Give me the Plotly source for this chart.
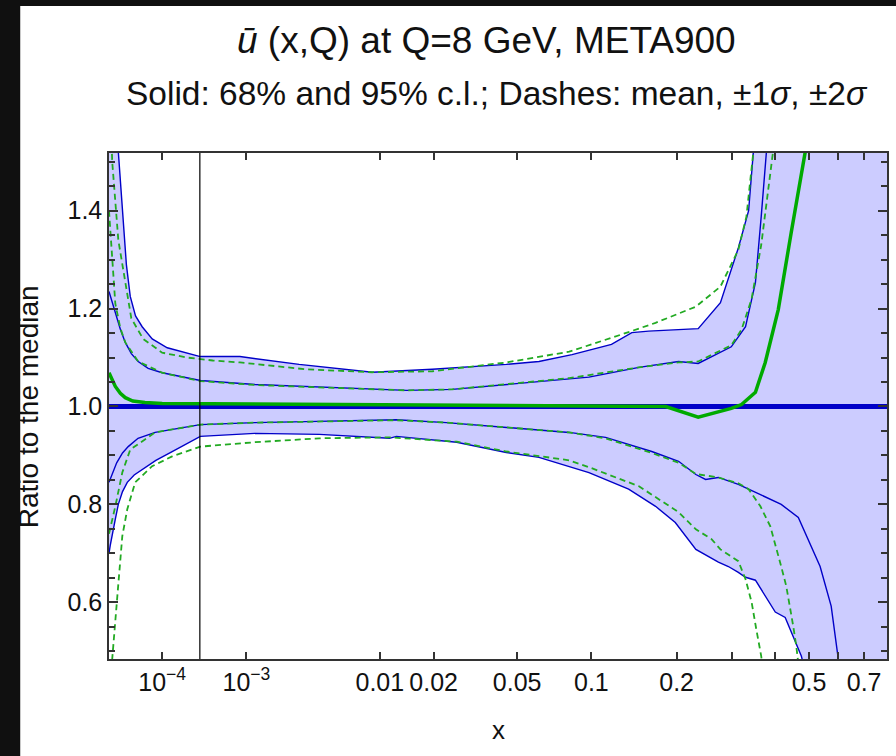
import numpy as np
import plotly.graph_objects as go

# ---------------- data ----------------
# The x axis of the reference is uniform in x**0.2
AXIS_POWER = 0.2
x_min, x_max = 1e-5, 0.8
y_min, y_max = 0.484, 1.518
x_vline = 3.2e-4

x_tick_vals = [1e-4, 1e-3, 0.01, 0.02, 0.05, 0.1, 0.2, 0.5, 0.7]
x_tick_text = ["10<sup>\u22124</sup>", "10<sup>\u22123</sup>", "0.01", "0.02",
               "0.05", "0.1", "0.2", "0.5", "0.7"]
x_minor_tick_vals = [0.3, 0.4, 0.6]
y_tick_vals = [0.6, 0.8, 1.0, 1.2, 1.4]
y_tick_text = ["0.6", "0.8", "1.0", "1.2", "1.4"]

median_x = [1e-5, 0.8]
median_y = [1.0, 1.0]

upper95_x = [1.0e-5, 1.3e-5, 1.63e-5, 1.98e-5, 2.4e-5, 2.86e-5, 3.6e-5, 4.74e-5, 7.0e-5, 1.19e-4,
             3.24e-4, 8.67e-4, 2.83e-3, 9.0e-3, 0.0197, 0.0448, 0.0619, 0.0842, 0.1188, 0.1406,
             0.161, 0.235, 0.276, 0.313, 0.336, 0.347, 0.37, 0.45, 0.8]
upper95_y = [1.80, 1.62, 1.52, 1.40, 1.29, 1.225, 1.185, 1.163, 1.138, 1.120,
             1.102, 1.102, 1.086, 1.070, 1.076, 1.086, 1.092, 1.106, 1.127, 1.151,
             1.154, 1.159, 1.212, 1.324, 1.40, 1.52, 1.8, 2.5, 3.0]

lower95_x = [1.0e-5, 1.07e-5, 1.4e-5, 1.63e-5, 2.0e-5, 2.5e-5, 3.4e-5, 4.74e-5, 8.0e-5, 1.4e-4,
             3.24e-4, 1.2e-3, 4.0e-3, 0.0114, 0.0125, 0.0262, 0.0338, 0.0448, 0.0619, 0.0821,
             0.0979, 0.137, 0.170, 0.198, 0.231, 0.272, 0.292, 0.313, 0.329, 0.352, 0.402,
             0.429, 0.476, 0.50, 0.8]
lower95_y = [0.70, 0.716, 0.77, 0.800, 0.826, 0.845, 0.860, 0.871, 0.890, 0.908,
             0.939, 0.945, 0.943, 0.935, 0.939, 0.927, 0.918, 0.906, 0.896, 0.878,
             0.865, 0.831, 0.796, 0.763, 0.708, 0.682, 0.673, 0.661, 0.651, 0.645, 0.580,
             0.569, 0.490, 0.43, 0.0]

upper68_x = [1e-5, 1.4e-5, 1.8e-5, 2.28e-5, 3.0e-5, 4.02e-5, 6.0e-5, 1e-4, 3.24e-4, 1.2e-3,
             3.19e-3, 0.0143, 0.0249, 0.0448, 0.0619, 0.0821, 0.0979, 0.149, 0.203, 0.235,
             0.298, 0.329, 0.352, 0.366, 0.379, 0.40, 0.5]
upper68_y = [1.235, 1.192, 1.158, 1.131, 1.108, 1.092, 1.078, 1.069, 1.053, 1.045,
             1.041, 1.033, 1.035, 1.045, 1.050, 1.057, 1.060, 1.080, 1.092, 1.088,
             1.122, 1.163, 1.253, 1.388, 1.52, 1.8, 2.5]

lower68_x = [1e-5, 1.07e-5, 1.5e-5, 2.0e-5, 2.61e-5, 4.0e-5, 7.8e-5, 3.24e-4, 1.2e-3, 3.19e-3,
             0.0125, 0.0233, 0.0448, 0.0821, 0.113, 0.165, 0.203, 0.231, 0.248, 0.272, 0.313,
             0.336, 0.418, 0.467, 0.536, 0.574, 0.599, 0.62, 0.8]
lower68_y = [0.845, 0.851, 0.885, 0.905, 0.918, 0.935, 0.947, 0.963, 0.967, 0.969,
             0.973, 0.967, 0.957, 0.947, 0.937, 0.908, 0.888, 0.861, 0.851, 0.855, 0.841,
             0.831, 0.800, 0.773, 0.673, 0.592, 0.49, 0.40, 0.0]

mean_x = [1e-5, 1.4e-5, 1.8e-5, 2.28e-5, 3.2e-5, 5.3e-5, 1e-4, 1e-3, 0.01, 0.1, 0.184, 0.235,
          0.298, 0.320, 0.352, 0.376, 0.41, 0.446, 0.488, 0.55]
mean_y = [1.069, 1.041, 1.027, 1.018, 1.011, 1.008, 1.006, 1.005, 1.003, 1.001, 1.0, 0.978,
          0.996, 1.004, 1.029, 1.09, 1.198, 1.355, 1.52, 1.9]

plus2_x = [1e-5, 1.19e-5, 1.63e-5, 2.28e-5, 3.0e-5, 4.94e-5, 1e-4, 2.22e-4, 4.51e-4, 8.67e-4,
           3.19e-3, 9.0e-3, 0.0197, 0.0448, 0.0821, 0.129, 0.170, 0.231, 0.276, 0.313, 0.331,
           0.347, 0.37, 0.45]
plus2_y = [1.70, 1.50, 1.34, 1.25, 1.18, 1.138, 1.110, 1.100, 1.094, 1.090,
           1.076, 1.070, 1.072, 1.090, 1.112, 1.147, 1.171, 1.204, 1.245, 1.320, 1.388,
           1.52, 1.8, 2.5]

plus1_x = [1e-5, 1.19e-5, 1.4e-5, 1.8e-5, 2.28e-5, 4.02e-5, 1e-4, 3.24e-4, 1.2e-3, 3.19e-3,
           0.0143, 0.0249, 0.0448, 0.0821, 0.149, 0.203, 0.235, 0.298, 0.320, 0.343, 0.366,
           0.389, 0.396, 0.42]
plus1_y = [1.40, 1.30, 1.21, 1.16, 1.131, 1.092, 1.069, 1.052, 1.044, 1.040,
           1.033, 1.035, 1.046, 1.058, 1.080, 1.090, 1.092, 1.125, 1.157, 1.22, 1.33,
           1.47, 1.52, 1.8]

minus1_x = [1e-5, 1.07e-5, 1.4e-5, 1.98e-5, 2.86e-5, 7.8e-5, 3.24e-4, 1.2e-3, 3.19e-3, 0.0125,
            0.0233, 0.0448, 0.0821, 0.113, 0.165, 0.203, 0.231, 0.272, 0.313, 0.336, 0.364,
            0.389, 0.404, 0.418, 0.432, 0.443, 0.452, 0.461, 0.48]
minus1_y = [0.74, 0.751, 0.796, 0.865, 0.912, 0.947, 0.963, 0.967, 0.969, 0.972,
            0.967, 0.957, 0.947, 0.935, 0.905, 0.885, 0.862, 0.855, 0.843, 0.831, 0.796,
            0.755, 0.714, 0.673, 0.633, 0.592, 0.551, 0.51, 0.40]

minus2_x = [1.1e-5, 1.19e-5, 1.55e-5, 1.98e-5, 2.5e-5, 3.55e-5, 6.97e-5, 1.4e-4, 3.24e-4,
            1.2e-3, 4.0e-3, 0.0114, 0.0262, 0.0448, 0.0821, 0.0979, 0.149, 0.203, 0.231,
            0.259, 0.276, 0.313, 0.329, 0.343, 0.354, 0.366, 0.38]
minus2_y = [0.40, 0.484, 0.612, 0.735, 0.790, 0.845, 0.878, 0.898, 0.918,
            0.927, 0.935, 0.937, 0.928, 0.908, 0.890, 0.876, 0.837, 0.784, 0.749,
            0.729, 0.708, 0.684, 0.647, 0.60, 0.545, 0.49, 0.40]

# ---------------- styling ----------------
BLUE = "#0000C8"
GREEN = "#00AA00"
DASH_GREEN = "#22AA22"
FILL = "rgb(204,204,255)"
FONT = "Liberation Sans, Arial, sans-serif"
W, H = 896, 756
ML, MR, MT, MB = 109, 7, 153, 97


def u(x):
    return np.power(np.asarray(x, dtype=float), AXIS_POWER)


fig = go.Figure()

# 95% band fill
fig.add_trace(go.Scatter(
    x=np.concatenate([u(lower95_x), u(upper95_x)[::-1]]),
    y=np.concatenate([lower95_y, upper95_y[::-1]]),
    fill="toself", fillcolor=FILL, line=dict(width=0), mode="lines",
    hoverinfo="skip", showlegend=False))

for xs, ys in [(upper95_x, upper95_y), (lower95_x, lower95_y),
               (upper68_x, upper68_y), (lower68_x, lower68_y)]:
    fig.add_trace(go.Scatter(x=u(xs), y=ys, mode="lines",
                             line=dict(color=BLUE, width=1.4), showlegend=False))

for xs, ys in [(plus2_x, plus2_y), (plus1_x, plus1_y),
               (minus1_x, minus1_y), (minus2_x, minus2_y)]:
    fig.add_trace(go.Scatter(x=u(xs), y=ys, mode="lines",
                             line=dict(color=DASH_GREEN, width=1.8, dash="6px,4px"),
                             showlegend=False))

fig.add_trace(go.Scatter(x=u(median_x), y=median_y, mode="lines",
                         line=dict(color=BLUE, width=5), showlegend=False))
fig.add_trace(go.Scatter(x=u(mean_x), y=mean_y, mode="lines",
                         line=dict(color=GREEN, width=3.5), showlegend=False))

pw = W - ML - MR
ph = H - MT - MB

shapes = [
    # white page area on the dark surround
    dict(type="rect", xref="paper", yref="paper", layer="below",
         x0=(20 - ML) / pw, x1=(W + 5 - ML) / pw,
         y0=-(MB + 5) / ph, y1=(ph + MT - 6) / ph,
         fillcolor="white", line=dict(width=0)),
    # vertical marker line
    dict(type="line", xref="x", yref="paper", x0=float(u(x_vline)), x1=float(u(x_vline)),
         y0=0, y1=1, line=dict(color="black", width=1.2), layer="above"),
]

annotations = [
    dict(text="<i>\u016B</i> (x,Q) at Q=8 GeV, META900", xref="paper", yref="paper",
         x=(487 - ML) / pw, y=(H - MB - 41) / ph, showarrow=False,
         xanchor="center", yanchor="middle", font=dict(family=FONT, size=37, color="#111")),
    dict(text="Solid: 68% and 95% c.l.; Dashes: mean, \u00B11<i>\u03C3</i>, \u00B12<i>\u03C3</i>",
         xref="paper", yref="paper",
         x=(498 - ML) / pw, y=(H - MB - 93) / ph, showarrow=False,
         xanchor="center", yanchor="middle", font=dict(family=FONT, size=33.5, color="#111")),
    dict(text="x", xref="paper", yref="paper", x=(499 - ML) / pw, y=(H - MB - 730) / ph,
         showarrow=False, xanchor="center", yanchor="middle",
         font=dict(family=FONT, size=26, color="#111")),
    dict(text="Ratio to the median", xref="paper", yref="paper", x=(28 - ML) / pw,
         y=(H - MB - 407) / ph, showarrow=False, textangle=-90,
         xanchor="center", yanchor="middle", font=dict(family=FONT, size=28, color="#111")),
]

fig.update_layout(
    width=W, height=H,
    margin=dict(l=ML, r=MR, t=MT, b=MB, pad=0),
    paper_bgcolor="#101010", plot_bgcolor="white",
    showlegend=False,
    shapes=shapes, annotations=annotations,
    font=dict(family=FONT, size=25, color="#111"),
)
fig.update_xaxes(
    range=[float(u(x_min)), float(u(x_max))],
    tickmode="array", tickvals=u(x_tick_vals), ticktext=x_tick_text, tickangle=0,
    ticks="inside", ticklen=7, tickwidth=1.5, tickcolor="#333",
    minor=dict(tickmode="array", tickvals=u(x_minor_tick_vals), ticks="inside",
               ticklen=7, tickwidth=1.5, tickcolor="#333"),
    showline=True, linecolor="#333", linewidth=1.5, mirror="ticks",
    showgrid=False, zeroline=False, tickfont=dict(size=25, family=FONT, color="#111"),
)
fig.update_yaxes(
    range=[y_min, y_max],
    tickmode="array", tickvals=y_tick_vals, ticktext=y_tick_text,
    ticks="inside", ticklen=9, tickwidth=1.5, tickcolor="#333",
    minor=dict(tick0=0, dtick=0.05, ticks="inside", ticklen=6, tickwidth=1.5, tickcolor="#333"),
    showline=True, linecolor="#333", linewidth=1.5, mirror="ticks",
    showgrid=False, zeroline=False, tickfont=dict(size=25, family=FONT, color="#111"),
)

fig.write_html("out.html")
